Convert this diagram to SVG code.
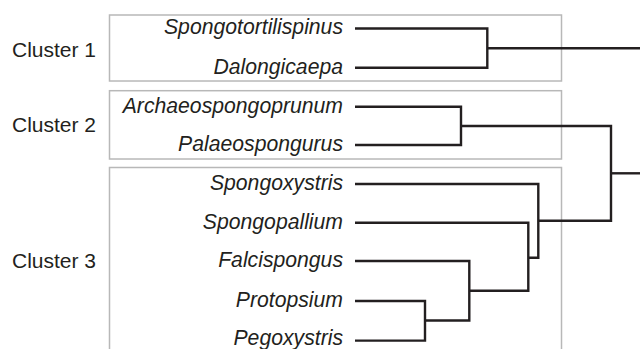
<svg xmlns="http://www.w3.org/2000/svg" width="640" height="349" viewBox="0 0 640 349">
<style>
.box{fill:none;stroke:#b8b8b8;stroke-width:1.5}
.cl{font-family:"Liberation Sans",Arial,sans-serif;font-size:21px;fill:#231f20}
.tx{font-family:"Liberation Sans",Arial,sans-serif;font-size:21.2px;font-style:italic;fill:#231f20;text-anchor:end}
.ln{fill:none;stroke:#231f20;stroke-width:2.4;stroke-linejoin:miter;stroke-linecap:butt}
</style>
<rect width="640" height="349" fill="#ffffff"/>
<g id="cluster1">
<rect class="box" x="109.5" y="15" width="452" height="66"/>
<text class="cl" x="12" y="56.7">Cluster 1</text>
</g>
<g id="cluster2">
<rect class="box" x="109.5" y="90.7" width="452" height="68.3"/>
<text class="cl" x="12" y="131.7">Cluster 2</text>
</g>
<g id="cluster3">
<rect class="box" x="109.5" y="167.5" width="452" height="200"/>
<text class="cl" x="12" y="267.5">Cluster 3</text>
</g>
<g id="t-spongotortilispinus"><text class="tx" x="343" y="34.4">Spongotortilispinus</text></g>
<g id="t-dalongicaepa"><text class="tx" x="343" y="73.6">Dalongicaepa</text></g>
<g id="t-archaeospongoprunum"><text class="tx" x="343" y="112.7">Archaeospongoprunum</text></g>
<g id="t-palaeospongurus"><text class="tx" x="343" y="151">Palaeospongurus</text></g>
<g id="t-spongoxystris"><text class="tx" x="343" y="190">Spongoxystris</text></g>
<g id="t-spongopallium"><text class="tx" x="343" y="228.7">Spongopallium</text></g>
<g id="t-falcispongus"><text class="tx" x="343" y="267">Falcispongus</text></g>
<g id="t-protopsium"><text class="tx" x="343" y="307">Protopsium</text></g>
<g id="t-pegoxystris"><text class="tx" x="343" y="344.6">Pegoxystris</text></g>
<g id="connectors">
<path class="ln" d="M355 28.5H487.3V67.8H355"/>
<path class="ln" d="M487.3 48.3H640"/>
<path class="ln" d="M355 106.7H461V145H355"/>
<path class="ln" d="M461 126H611V220.7H538.3"/>
<path class="ln" d="M611 173.3H640"/>
<path class="ln" d="M355 184H538.3V257.7H528.3"/>
<path class="ln" d="M355 222.7H528.3V290.7H469.3"/>
<path class="ln" d="M355 261H469.3V320.5H425"/>
<path class="ln" d="M355 301H425V340.6H355"/>
</g>
</svg>
